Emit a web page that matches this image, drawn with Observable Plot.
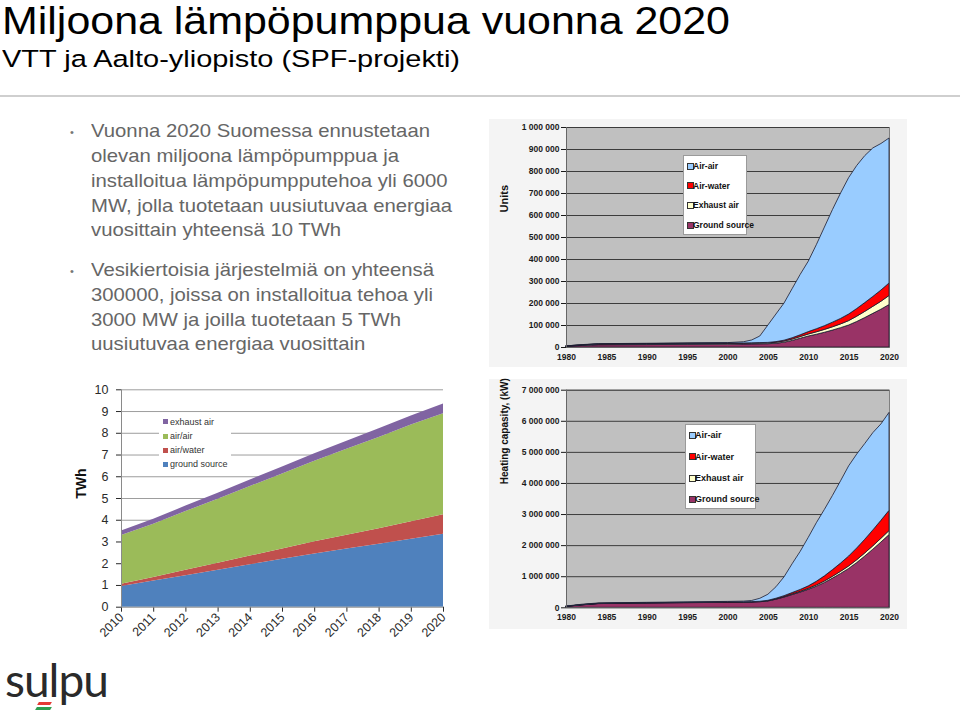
<!DOCTYPE html>
<html><head><meta charset="utf-8">
<script src="https://cdn.jsdelivr.net/npm/d3@7"></script>
<script src="https://cdn.jsdelivr.net/npm/@observablehq/plot@0.6"></script>
<style>
body{margin:0;background:#fff;}
#slide{position:relative;width:960px;height:716px;overflow:hidden;font-family:"Liberation Sans",Arial,sans-serif;background:#fff;}
.abs{position:absolute;white-space:nowrap;}
.title{left:2px;top:0px;font-size:38px;line-height:normal;color:#000;transform-origin:0 50%;}
.sub{left:2px;top:45px;font-size:24.5px;line-height:normal;color:#000;transform-origin:0 50%;}
.rule{left:0;top:95px;width:960px;height:2px;background:#cfcfcf;}
.bl{left:91px;font-size:18.5px;line-height:20px;color:#666;transform-origin:0 50%;}
.dot{left:70px;font-size:11px;line-height:20px;color:#777;}
.chartbg{background:#f4f4f4;}
.leg{position:absolute;background:#fff;}
.legItem{position:absolute;white-space:nowrap;}
.sw{position:absolute;box-sizing:border-box;}
.logo{left:5px;top:652px;font-family:Lato,"Open Sans",sans-serif;font-size:46px;line-height:56px;color:#2a2a2a;letter-spacing:-1px;}
</style></head><body><div id="slide">
<div class="abs title" id="t1">Miljoona lämpöpumppua vuonna 2020</div>
<div class="abs sub" id="t2">VTT ja Aalto-yliopisto (SPF-projekti)</div>
<div class="abs rule"></div>
</div>
<script>
// ---------- DATA ----------
const bullet1 = ["Vuonna 2020 Suomessa ennustetaan","olevan miljoona lämpöpumppua ja","installoitua lämpöpumpputehoa yli 6000","MW, jolla tuotetaan uusiutuvaa energiaa","vuosittain yhteensä 10 TWh"];
const bullet2 = ["Vesikiertoisia järjestelmiä on yhteensä","300000, joissa on installoitua tehoa yli","3000 MW ja joilla tuotetaan 5 TWh","uusiutuvaa energiaa vuosittain"];

const years = [1980,1982,1984,1990,1995,2000,2002,2003,2004,2005,2006,2007,2008,2009,2010,2011,2012,2013,2014,2015,2016,2017,2018,2019,2020];
const seriesNames = ["Ground source","Exhaust air","Air-water","Air-air"];
const seriesColors = ["#993366","#FFFFCC","#FF0000","#99CCFF"];

const unitsGround   = [3000,7000,10000,11000,12000,13000,13500,14000,14500,15000,17000,22000,30000,40000,50000,58000,67000,77000,88000,100000,116000,134000,153000,172000,193000];
const unitsExhaust  = [1000,2000,3000,3500,4000,4000,4000,4000,4000,4000,4500,5000,6000,7500,9000,11000,13000,15000,17000,20000,24000,28000,32000,36000,41000];
const unitsAirWater = [1000,1000,1000,1000,1000,1000,1000,1000,1500,2000,3000,4000,6000,8000,11000,14000,17000,21000,25000,30000,35000,40000,45000,51000,57000];
const unitsAirAir   = [0,1000,1000,1500,1500,2000,5500,13000,30000,79000,125500,169000,223000,274500,320000,382000,448000,512000,570000,620000,650000,668000,675000,666000,659000];

const kwGround   = [30000,80000,120000,140000,150000,160000,165000,170000,180000,205000,260000,330000,410000,490000,580000,680000,800000,940000,1090000,1250000,1440000,1650000,1870000,2100000,2340000];
const kwExhaust  = [2000,3000,4000,4000,5000,5000,6000,7000,8000,10000,12000,15000,20000,25000,30000,38000,47000,57000,68000,80000,90000,100000,110000,120000,130000];
const kwAirWater = [2000,3000,4000,5000,5000,5000,5000,6000,7000,10000,20000,30000,45000,60000,80000,120000,165000,215000,265000,320000,380000,440000,510000,580000,650000];
const kwAirAir   = [6000,14000,12000,11000,15000,20000,24000,37000,95000,195000,368000,605000,925000,1225000,1560000,1882000,2138000,2388000,2647000,2900000,3020000,3080000,3130000,3100000,3150000];

const yearTicks = [1980,1985,1990,1995,2000,2005,2010,2015,2020];
const unitsTicks = [0,100000,200000,300000,400000,500000,600000,700000,800000,900000,1000000];
const kwTicks = [0,1000000,2000000,3000000,4000000,5000000,6000000,7000000];

const twhYears = [2010,2011,2012,2013,2014,2015,2016,2017,2018,2019,2020];
const twhNames = ["ground source","air/water","air/air","exhaust air"];
const twhColors = ["#4F81BD","#C0504D","#9BBB59","#8064A2"];
const twhGround   = [0.95,1.2,1.45,1.7,1.95,2.2,2.45,2.68,2.9,3.13,3.35];
const twhAirWater = [0.1,0.17,0.25,0.32,0.4,0.48,0.56,0.63,0.71,0.8,0.9];
const twhAirAir   = [2.25,2.45,2.7,2.95,3.2,3.45,3.7,3.95,4.2,4.45,4.65];
const twhExhaust  = [0.2,0.22,0.25,0.27,0.3,0.32,0.35,0.37,0.4,0.42,0.45];
const twhTicks = [0,1,2,3,4,5,6,7,8,9,10];

// ---------- helpers ----------
const slide = document.getElementById("slide");
function longData(xs, names, arrays){
  const out=[];
  names.forEach((n,i)=>xs.forEach((x,j)=>out.push({year:x, value:arrays[i][j], series:n})));
  return out;
}
function place(el,left,top){el.style.position="absolute";el.style.left=left+"px";el.style.top=top+"px";slide.appendChild(el);return el;}
function div(cls,text,left,top){const d=document.createElement("div");d.className="abs "+cls;if(text!=null)d.textContent=text;d.style.left=left+"px";d.style.top=top+"px";slide.appendChild(d);return d;}
function fit(el,target){const w=el.getBoundingClientRect().width;if(w>0)el.style.transform=`scaleX(${target/w})`;}
const fmtSpace = d => d3.format(",")(d).replace(/,/g," ");

// ---------- text ----------
fit(document.getElementById("t1"),728);
fit(document.getElementById("t2"),458);
const b1Base=[136.7,161.5,186.3,211,235.8], b2Base=[275.7,300.4,325.1,349.8];
let scale=null;
bullet1.forEach((s,i)=>{const d=div("bl",s,91,b1Base[i]-15.5); if(i===0){scale=339/d.getBoundingClientRect().width;} d.style.transform=`scaleX(${scale})`;});
bullet2.forEach((s,i)=>{const d=div("bl",s,91,b2Base[i]-15.5); d.style.transform=`scaleX(${scale})`;});
div("dot","•",70,b1Base[0]-14.5);
div("dot","•",70,b2Base[0]-14.5);

// ---------- excel-like charts ----------
function excelChart({left,top,width,height,mL,mR,mT,mB,yDomain,yTicks,arrays,label,labelDx,labelDy,labelSize}){
  const bg=document.createElement("div");bg.className="chartbg";bg.style.width=width+"px";bg.style.height=height+"px";place(bg,left,top);
  const data=longData(years,seriesNames,arrays);
  const p=Plot.plot({
    width,height,marginLeft:mL,marginRight:mR,marginTop:mT,marginBottom:mB,
    style:{background:"transparent",fontFamily:"'Liberation Sans',Arial,sans-serif",fontSize:"8.5px",fontWeight:"bold",color:"#1a1a1a",overflow:"visible"},
    x:{domain:[1980,2020],ticks:yearTicks,tickFormat:d=>String(d),tickSize:0,tickPadding:6,label:null},
    y:{domain:yDomain,ticks:yTicks,tickFormat:fmtSpace,tickSize:5,tickPadding:2,label:null},
    color:{domain:seriesNames,range:seriesColors},
    marks:[
      Plot.frame({fill:"#c0c0c0",stroke:"#808080"}),
      Plot.ruleY(yTicks.slice(1),{stroke:"#3c3c3c",strokeWidth:1}),
      Plot.areaY(data,{x:"year",y:"value",z:"series",fill:"series",order:seriesNames,stroke:"#1a1a2e",strokeWidth:0.8}),
      Plot.ruleY([yDomain[0]],{stroke:"#666"}),
      Plot.ruleX([1980],{stroke:"#666"}),
      Plot.text([label],{text:d=>d,frameAnchor:"top-left",dx:labelDx,dy:labelDy,rotate:-90,fontWeight:"bold",fontSize:labelSize,fill:"#111"})
    ]
  });
  place(p,left,top);
}
excelChart({left:489,top:119,width:418,height:248,mL:77,mR:18,mT:8,mB:20,yDomain:[0,1000000],yTicks:unitsTicks,
  arrays:[unitsGround,unitsExhaust,unitsAirWater,unitsAirAir],label:"Units",labelDx:-66,labelDy:85,labelSize:11});
excelChart({left:489,top:379,width:418,height:250,mL:77,mR:18,mT:10.7,mB:21.7,yDomain:[0,7000000],yTicks:kwTicks,
  arrays:[kwGround,kwExhaust,kwAirWater,kwAirAir],label:"Heating capasity, (kW)",labelDx:-66,labelDy:94,labelSize:10});

function excelLegend(left,top,w,h,centers,textX,fs){
  const box=document.createElement("div");box.className="leg";box.style.width=w+"px";box.style.height=h+"px";box.style.border="1px solid #9a9a9a";box.style.boxSizing="border-box";place(box,left,top);
  const order=[3,2,1,0];
  order.forEach((si,k)=>{
    const sw=document.createElement("div");sw.className="sw";
    sw.style.cssText+=`left:${3}px;top:${centers[k]-top-3.5}px;width:7px;height:7px;background:${seriesColors[si]};border:1px solid #333;`;
    box.appendChild(sw);
    const t=document.createElement("div");t.className="legItem";t.textContent=seriesNames[si];
    t.style.cssText+=`left:${textX-left}px;top:${centers[k]-top-6}px;font-size:${fs}px;line-height:12px;font-weight:bold;color:#111;`;
    box.appendChild(t);
  });
}
excelLegend(683,155,64,80,[165.3,184.7,204,224],692,8.5);
excelLegend(685,424,71,85,[434,455.7,477,498.3],694,9);

// ---------- TWh chart ----------
const twhData=longData(twhYears,twhNames,[twhGround,twhAirWater,twhAirAir,twhExhaust]);
const pt=Plot.plot({
  width:395,height:270,marginLeft:61,marginRight:12,marginTop:14.3,marginBottom:38.3,
  style:{background:"transparent",fontFamily:"'Liberation Sans',Arial,sans-serif",fontSize:"12.5px",color:"#2a2a2a",overflow:"visible"},
  x:{domain:[2010,2020],ticks:twhYears,tickFormat:d=>String(d),tickRotate:-45,tickSize:5,tickPadding:3,label:null},
  y:{domain:[0,10],ticks:twhTicks,tickSize:5,tickPadding:8,label:null},
  color:{domain:twhNames,range:twhColors},
  marks:[
    Plot.ruleY(twhTicks.slice(1),{stroke:"#9d9d9d",strokeWidth:1}),
    Plot.areaY(twhData,{x:"year",y:"value",z:"series",fill:"series",order:twhNames}),
    Plot.ruleY([0],{stroke:"#8a8a8a"}),
    Plot.ruleX([2010],{stroke:"#8a8a8a"}),
    Plot.text(["TWh"],{text:d=>d,frameAnchor:"top-left",dx:-45,dy:109,rotate:-90,fontWeight:"bold",fontSize:14,fill:"#111"})
  ]
});
place(pt,60,375);
(function(){
  const box=document.createElement("div");box.className="leg";box.style.width="72px";box.style.height="58px";place(box,159,413);
  const centers=[421.7,436,450,464];
  [3,2,1,0].forEach((si,k)=>{
    const sw=document.createElement("div");sw.className="sw";
    sw.style.cssText+=`left:4px;top:${centers[k]-413-2.5}px;width:5px;height:5px;background:${twhColors[si]};`;
    box.appendChild(sw);
    const t=document.createElement("div");t.className="legItem";t.textContent=twhNames[si];
    t.style.cssText+=`left:11px;top:${centers[k]-413-6}px;font-size:9px;line-height:12px;color:#333;`;
    box.appendChild(t);
  });
})();

// ---------- logo ----------
div("logo","sulpu",5,652);
const r=div("","",38,702);r.style.cssText+="width:13px;height:3px;background:#e53935;transform:skewX(-30deg);";
const g=div("","",36,707);g.style.cssText+="width:15px;height:3px;background:#2e9e4f;transform:skewX(-30deg);";
</script></body></html>
